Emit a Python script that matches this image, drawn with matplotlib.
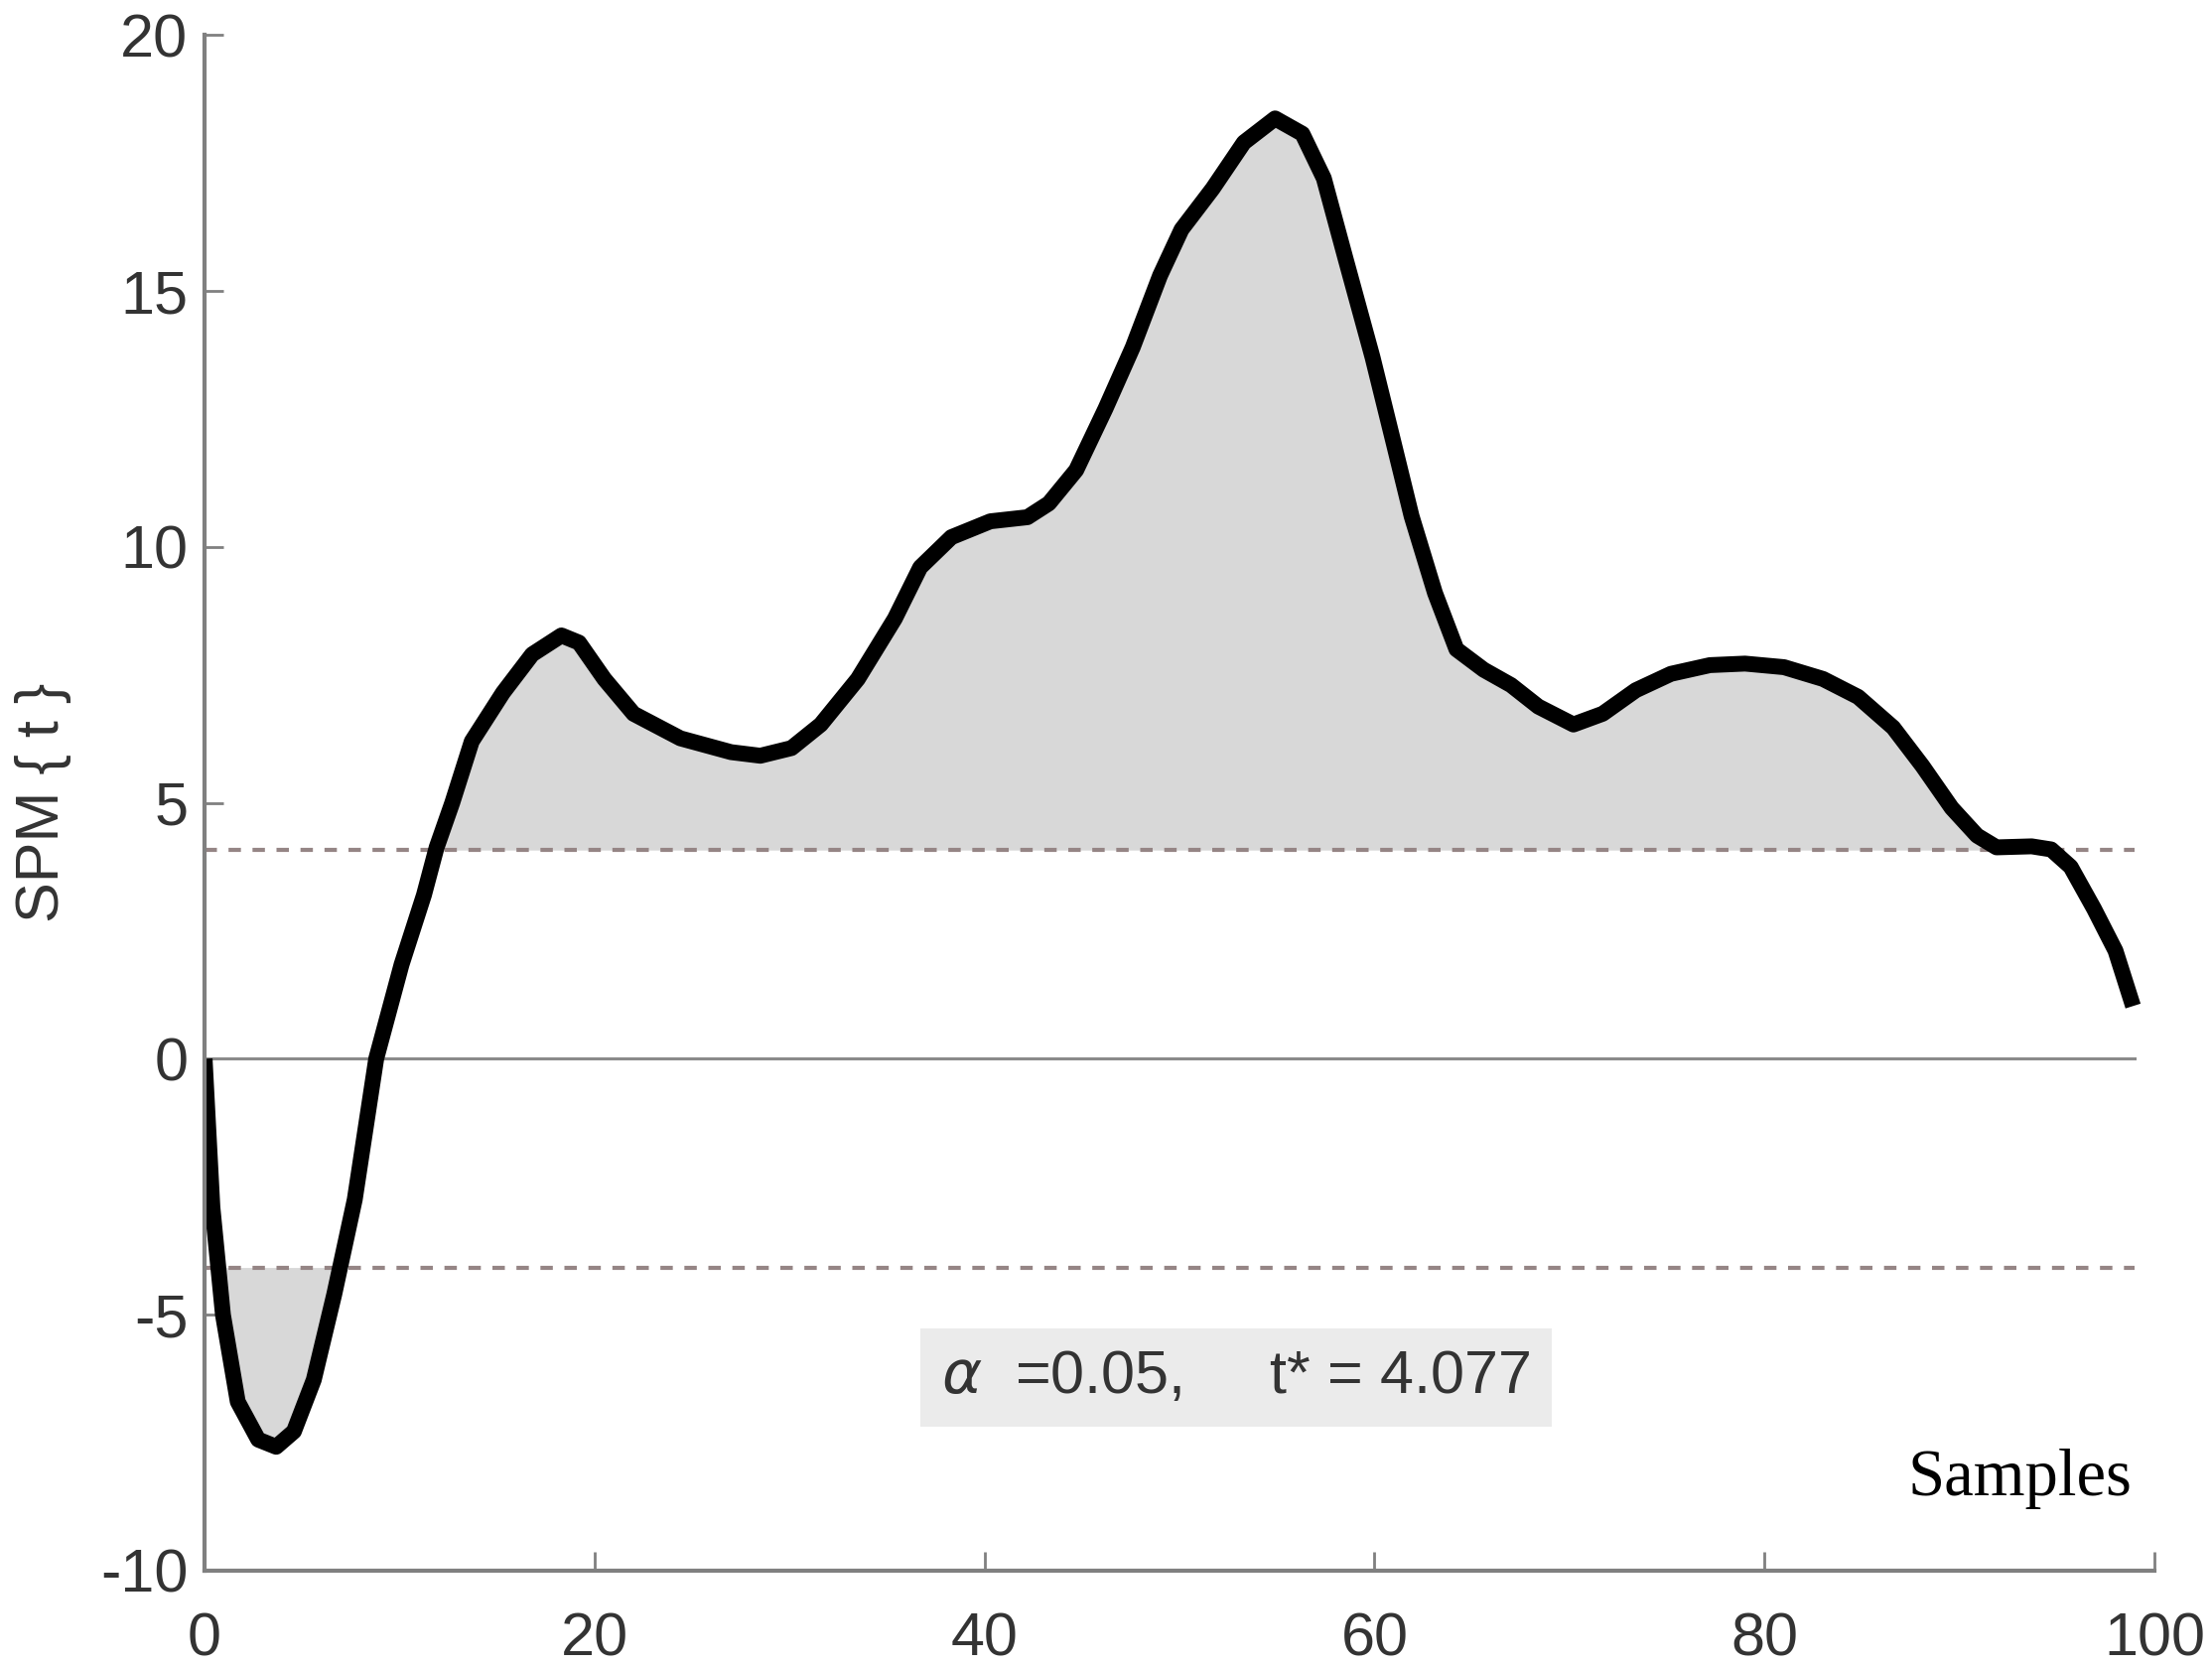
import numpy as np
import matplotlib.pyplot as plt

# SPM{t} curve
samples = [0, 0.4, 0.94, 1.7, 2.75, 3.67, 4.58, 5.6, 6.65, 7.7, 8.8,
           10.1, 11.25, 11.9, 12.7, 13.7, 15.3, 16.8, 18.3, 19.2, 20.5, 22.0,
           24.4, 27.0, 28.5, 30.1, 31.6, 33.5, 35.4, 36.7, 38.3, 40.3, 42.2,
           43.3, 44.7, 46.2, 47.6, 49.0, 50.1, 51.7, 53.3, 54.9, 56.3, 57.4,
           58.5, 59.9, 61.0, 61.9, 63.1, 64.2, 65.6, 67.0, 68.4, 70.2, 71.7,
           73.4, 75.2, 77.2, 79.0, 81.0, 83.0, 84.8, 86.6, 88.1, 89.6, 90.9,
           91.9, 93.7, 94.7, 95.7, 96.9, 98.0, 98.9]
spm_t = [0, -2.9, -5.0, -6.7, -7.44, -7.58, -7.28, -6.27, -4.6, -2.75, 0,
         1.84, 3.2, 4.13, 5.0, 6.2, 7.15, 7.9, 8.27, 8.13, 7.42, 6.74,
         6.26, 5.99, 5.92, 6.07, 6.53, 7.42, 8.6, 9.6, 10.19, 10.5, 10.58,
         10.85, 11.5, 12.7, 13.9, 15.3, 16.2, 17.0, 17.9, 18.37, 18.07, 17.2,
         15.65, 13.7, 12.0, 10.6, 9.1, 8.0, 7.6, 7.3, 6.88, 6.53, 6.74,
         7.2, 7.52, 7.69, 7.72, 7.65, 7.42, 7.07, 6.47, 5.72, 4.9, 4.36,
         4.13, 4.15, 4.09, 3.75, 2.93, 2.11, 1.03]
t_crit = 4.077
alpha = 0.05

x = np.array(samples)
y = np.array(spm_t)

fig = plt.figure(figsize=(22.28, 16.79), dpi=100)
ax = fig.add_axes([0.0925, 0.0578, 0.8815, 0.9212])

# supra-threshold clusters
ax.fill_between(x, y, t_crit, where=y >= t_crit, interpolate=True,
                color='#d8d8d8', lw=0)
ax.fill_between(x, y, -t_crit, where=y <= -t_crit, interpolate=True,
                color='#d8d8d8', lw=0)

ax.plot([0, 99], [0, 0], color='#8a8a8a', lw=2.2)
ax.plot([0, 99], [t_crit, t_crit], color='#958585', lw=3, ls=(0, (3, 2.8)))
ax.plot([0, 99], [-t_crit, -t_crit], color='#958585', lw=3, ls=(0, (3, 2.8)))

ax.plot(x, y, color='black', lw=11.5, solid_joinstyle='round', solid_capstyle='butt')

ax.set_xlim(0, 100)
ax.set_ylim(-10, 20)
ax.set_xticks([0, 20, 40, 60, 80, 100])
ax.set_yticks([-10, -5, 0, 5, 10, 15, 20])
ax.set_yticklabels(['-10', '-5', '0', '5', '10', '15', '20'])

for side in ['top', 'right']:
    ax.spines[side].set_visible(False)
for side in ['left', 'bottom']:
    ax.spines[side].set_color('#808080')
    ax.spines[side].set_linewidth(3)
ax.tick_params(direction='in', length=14, width=2, color='#808080',
               labelsize=44, labelcolor='#333333', pad=12)
ax.tick_params(axis='x', pad=30)
for lab in ax.get_xticklabels() + ax.get_yticklabels():
    lab.set_family('Liberation Sans')

ax.set_ylabel('SPM { t }', fontsize=44, family='Liberation Sans', color='#333333',
              va='center')
ax.yaxis.set_label_coords(-0.083, 0.5)

ax.text(52.9, -6.23, r'$\alpha$  =0.05,     t* = 4.077', fontsize=44,
        family='Liberation Sans', color='#333333', ha='center', va='center',
        bbox=dict(boxstyle='square,pad=0.35', fc='#ebebeb', ec='none'))
ax.text(93.1, -8.2, 'Samples', fontsize=48, family='Liberation Serif',
        color='black', ha='center', va='center')

fig.savefig('out.png', dpi=100)
